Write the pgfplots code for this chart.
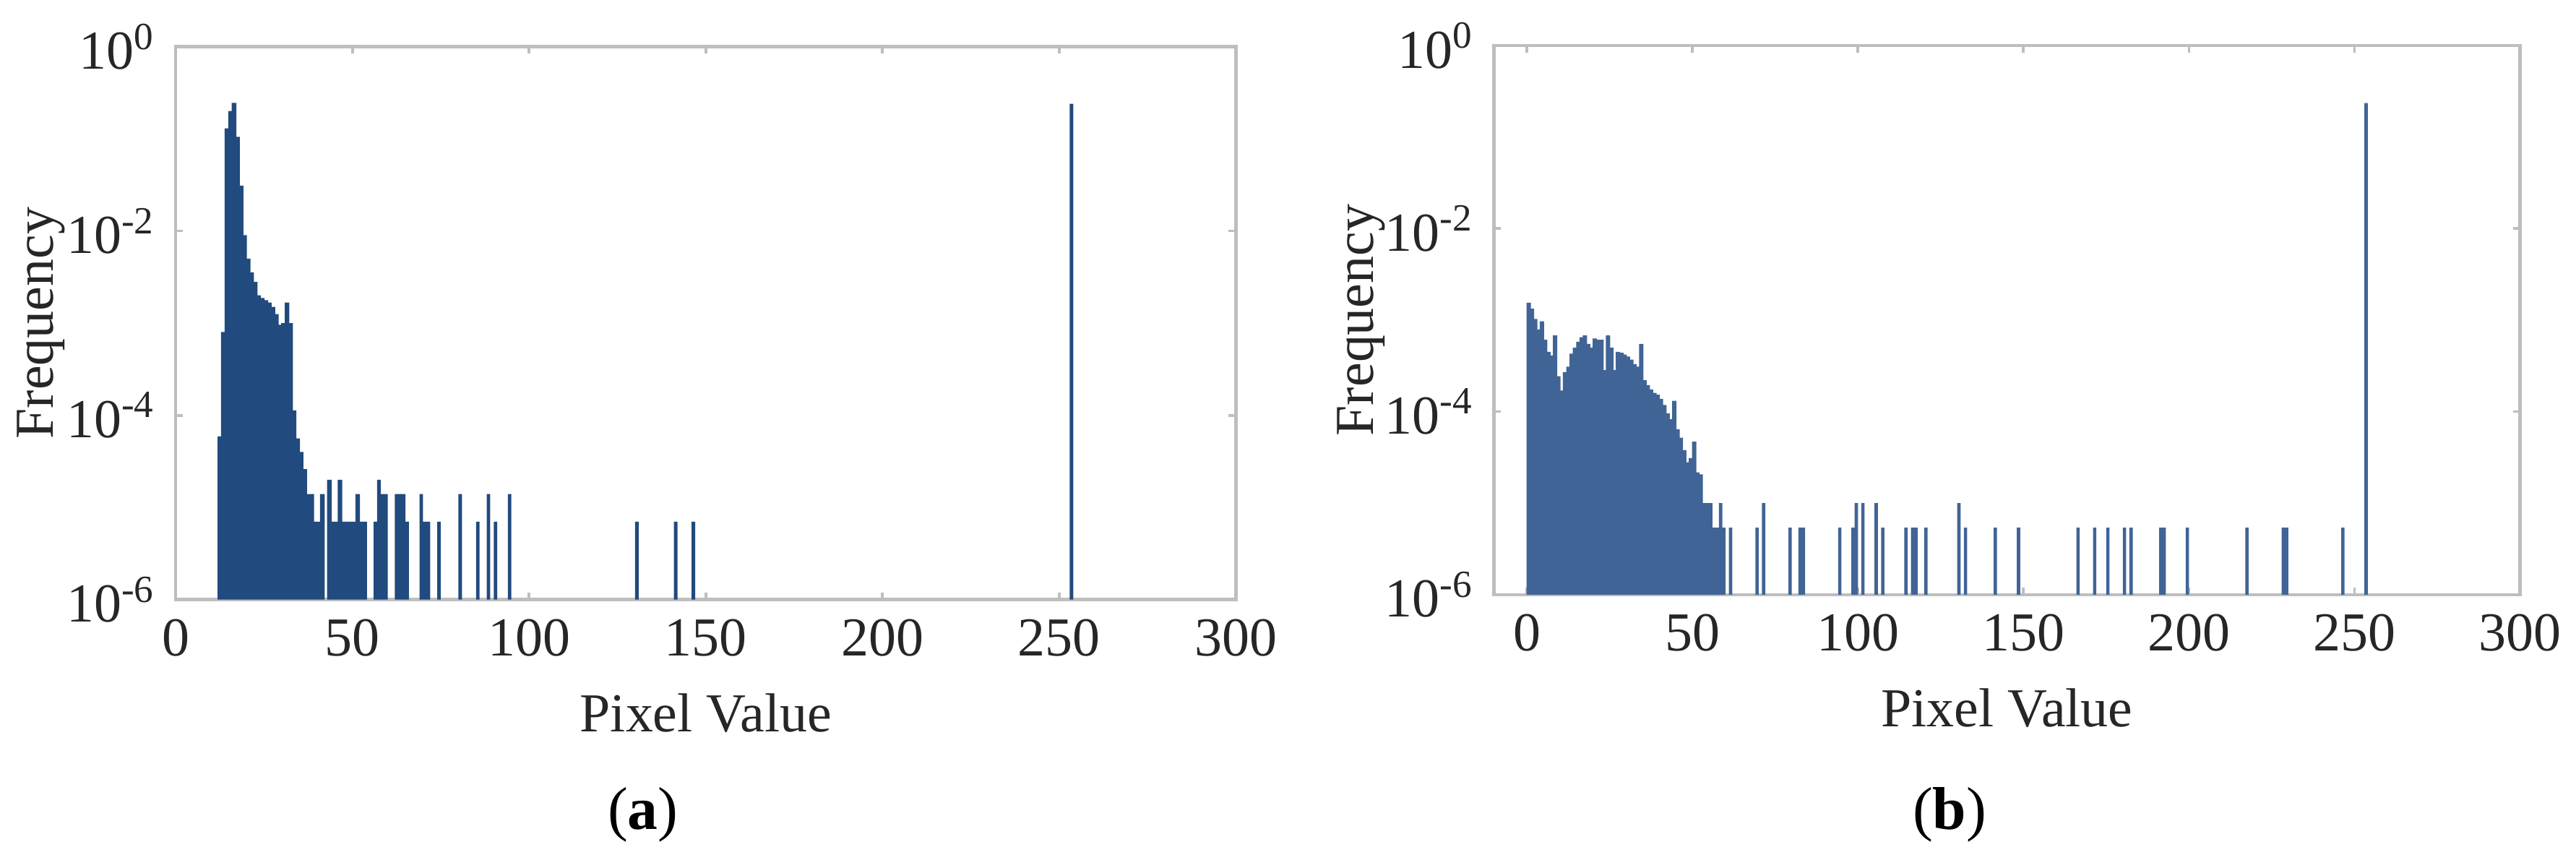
\documentclass[border=0pt]{standalone}
\usepackage{fontspec}
\setmainfont{Liberation Serif}
\usepackage{pgfplots}
\pgfplotsset{compat=1.18}

\definecolor{barA}{RGB}{33,74,126}
\definecolor{barB}{RGB}{64,100,150}
\definecolor{axgray}{RGB}{190,190,190}
\definecolor{txt}{RGB}{38,38,38}

\begin{document}
\begin{tikzpicture}
\useasboundingbox (0,0) rectangle (469.2pt,156.6pt);

% (a)
\begin{axis}[
  at={(32pt,47.4pt)}, anchor=south west,
  scale only axis,
  width=193.1pt, height=100.7pt,
  ymode=log,
  log origin y=infty,
  xmin=0, xmax=300,
  ymin=1e-6, ymax=1,
  xtick={0,50,...,300},
  ytick={1e-6,1e-4,1e-2,1},
  yticklabels={10\textsuperscript{-6},10\textsuperscript{-4},10\textsuperscript{-2},10\textsuperscript{0}},
  yminorticks=false,
  axis line style={axgray, line width=0.6pt},
  tick style={axgray, line width=0.5pt},
  major tick length=1.3pt,
  tick label style={font=\fontsize{10}{12}\selectfont, text=txt},
  label style={font=\fontsize{10}{12}\selectfont, text=txt},
  /pgf/number format/assume math mode=true,
  xlabel={Pixel Value},
  ylabel={Frequency},
  ylabel style={at={(axis description cs:-0.127,0.5)}, anchor=center},
]
% contiguous part
\addplot[ybar, bar width=1.3, bar shift=0.5, fill=barA, draw=none] coordinates {
  (12,5.9e-5) (13,8e-4) (14,0.13) (15,0.20) (16,0.245) (17,0.105)
  (18,0.031) (19,9e-3) (20,5.0e-3) (21,3.55e-3) (22,2.8e-3) (23,2.0e-3)
  (24,1.87e-3) (25,1.77e-3) (26,1.67e-3) (27,1.5e-3) (28,1.25e-3)
  (29,9.6e-4) (30,1.0e-3) (31,1.67e-3) (32,1.0e-3) (33,1.13e-4)
  (34,5.6e-5) (35,4.0e-5) (36,2.6e-5) (37,1.4e-5) (38,1.4e-5)
  (39,7e-6) (40,7e-6) (41,1.4e-5) (43,2.0e-5) (44,7e-6) (45,7e-6)
  (46,2.0e-5) (47,7e-6) (48,7e-6) (49,7e-6) (50,7e-6) (51,1.4e-5)
  (52,7e-6) (53,7e-6)
};
% isolated bins
\addplot[ybar, bar width=1, bar shift=0.5, fill=barA, draw=none] coordinates {
  (56,7e-6) (57,2.0e-5) (58,1.4e-5) (59,1.4e-5)
  (62,1.4e-5) (63,1.4e-5) (64,1.4e-5) (65,7e-6) (69,1.4e-5) (70,7e-6)
  (71,7e-6) (74,7e-6) (80,1.4e-5) (85,7e-6) (88,1.4e-5) (90,7e-6)
  (94,1.4e-5) (130,7e-6) (141,7e-6) (146,7e-6) (253,0.24)
};
\end{axis}

% (b)
\begin{axis}[
  at={(272.1pt,48.3pt)}, anchor=south west,
  scale only axis,
  width=186.9pt, height=100pt,
  ymode=log,
  log origin y=infty,
  xmin=-10, xmax=300,
  ymin=1e-6, ymax=1,
  xtick={0,50,...,300},
  ytick={1e-6,1e-4,1e-2,1},
  yticklabels={10\textsuperscript{-6},10\textsuperscript{-4},10\textsuperscript{-2},10\textsuperscript{0}},
  yminorticks=false,
  axis line style={axgray, line width=0.6pt},
  tick style={axgray, line width=0.5pt},
  major tick length=1.3pt,
  tick label style={font=\fontsize{10}{12}\selectfont, text=txt},
  label style={font=\fontsize{10}{12}\selectfont, text=txt},
  /pgf/number format/assume math mode=true,
  xlabel={Pixel Value},
  ylabel={Frequency},
  ylabel style={at={(axis description cs:-0.129,0.5)}, anchor=center},
]
% contiguous part
\addplot[ybar, bar width=1.3, bar shift=0.5, fill=barB, draw=none] coordinates {
  (0,1.55e-3) (1,1.33e-3) (2,1.03e-3) (3,7.9e-4) (4,9.7e-4) (5,6.1e-4)
  (6,4.5e-4) (7,4.1e-4) (8,6.8e-4) (9,2.43e-4) (10,1.7e-4) (11,2.7e-4)
  (12,3.1e-4) (13,4.3e-4) (14,5.0e-4) (15,5.8e-4) (16,6.5e-4) (17,6.8e-4)
  (18,5.5e-4) (19,5.0e-4) (20,6.3e-4) (21,6.1e-4) (22,6.1e-4) (23,2.84e-4)
  (24,6.8e-4) (25,5.0e-4) (26,2.84e-4) (27,4.5e-4) (28,4.4e-4) (29,4.2e-4)
  (30,4.0e-4) (31,3.7e-4) (32,3.3e-4) (33,3.1e-4) (34,5.5e-4) (35,2.2e-4)
  (36,1.95e-4) (37,1.75e-4) (38,1.6e-4) (39,1.53e-4) (40,1.38e-4)
  (41,1.18e-4) (42,9.6e-5) (43,8.3e-5) (44,1.31e-4) (45,6.4e-5)
  (46,5.2e-5) (47,3.8e-5) (48,2.8e-5) (49,3.1e-5) (50,4.7e-5)
  (51,2.17e-5) (52,2.06e-5) (53,1.0e-5)
};
% isolated bins
\addplot[ybar, bar width=1, bar shift=0.5, fill=barB, draw=none] coordinates {
  (54,1.0e-5) (55,1.0e-5)
  (56,5.4e-6) (57,5.4e-6) (58,1.0e-5) (59,5.4e-6) (61,5.4e-6)
  (69,5.4e-6) (71,1.0e-5) (79,5.4e-6) (82,5.4e-6) (83,5.4e-6)
  (94,5.4e-6) (98,5.4e-6) (99,1.0e-5) (101,1.0e-5) (105,1.0e-5)
  (107,5.4e-6) (114,5.4e-6) (116,5.4e-6) (117,5.4e-6) (120,5.4e-6)
  (130,1.0e-5) (132,5.4e-6) (141,5.4e-6) (148,5.4e-6) (166,5.4e-6)
  (171,5.4e-6) (175,5.4e-6) (180,5.4e-6) (182,5.4e-6) (191,5.4e-6)
  (192,5.4e-6) (199,5.4e-6) (217,5.4e-6) (228,5.4e-6) (229,5.4e-6)
  (246,5.4e-6) (253,0.235)
};
\end{axis}

\node[font=\fontsize{11}{13}\selectfont] at (117.1pt,8.2pt) {(\textbf{a})};
\node[font=\fontsize{11}{13}\selectfont] at (355.1pt,8.2pt) {(\textbf{b})};
\end{tikzpicture}
\end{document}
